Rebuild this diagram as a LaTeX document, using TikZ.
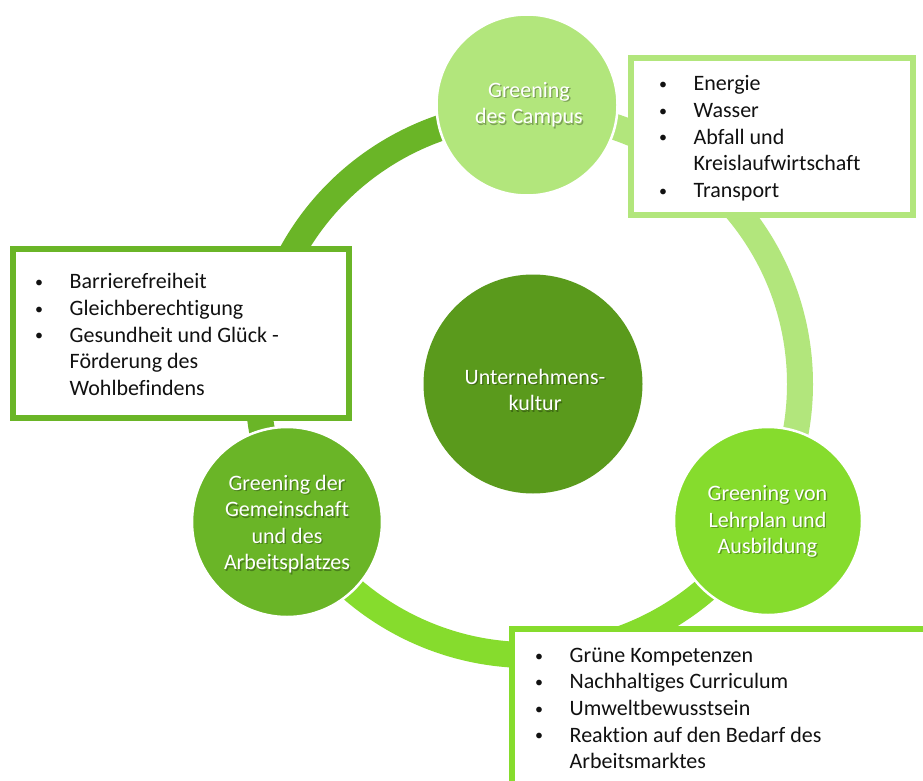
\documentclass[tikz,border=0pt]{standalone}
\usepackage{fontspec}
\setmainfont{Carlito}[RawFeature=-liga]
\usetikzlibrary{calc}
\definecolor{gDark}{HTML}{5A9A1C}
\definecolor{gMed}{HTML}{6AB527}
\definecolor{gBright}{HTML}{86DC2D}
\definecolor{gLight}{HTML}{B2E67C}
\definecolor{inkText}{HTML}{111111}
\newcommand\lst{\rule[-6pt]{0pt}{25pt}}
\newcommand\bulsym{\raisebox{1.2pt}{\fontsize{16}{16}\selectfont •}}
\newcommand\bul[1]{\lst\makebox[35.5pt][l]{\hspace*{1pt}\bulsym}#1}
\newcommand\cont[1]{\lst\hspace*{35.5pt}#1}
\newcommand\ctextpair[3]{%
  \node[cshadow] at ($#2+(1.3,1.3)$) {#3};
  \node[ctext] (#1) at #2 {#3};}
\begin{document}
\begin{tikzpicture}[x=1pt,y=-1pt,
  every node/.style={font=\fontsize{22}{26.6}\selectfont},
  ringarc/.style={line width=26pt},
  bubble/.style={circle, draw=white, line width=2.5pt, inner sep=0pt},
  infobox/.style={rectangle, draw, line width=6pt, fill=white, inner sep=0pt},
  listtext/.style={anchor=west, align=left, inner sep=0pt, text=inkText},
  ctext/.style={align=center, inner sep=0pt, text=white},
  cshadow/.style={align=center, inner sep=0pt, text=black, opacity=0.3},
]
\clip (0,0) rectangle (923,781);
\fill[white] (0,0) rectangle (923,781);

% ring centre
\coordinate (R) at (529,384);

% ring arcs (clockwise in the picture)
\draw[ringarc, gLight]  ($(R)+(-92:271)$) arc[start angle=-92, end angle=32, radius=271];
\draw[ringarc, gBright] ($(R)+(28:271)$)  arc[start angle=28,  end angle=152, radius=271];
\draw[ringarc, gMed]    ($(R)+(148:271)$) arc[start angle=148, end angle=272, radius=271];

% boxes
\node[infobox, draw=gLight,  minimum width=282, minimum height=157] (boxT) at (772,136.5) {};
\node[infobox, draw=gMed,    minimum width=336, minimum height=169] (boxL) at (181,333.5) {};
\node[infobox, draw=gBright, minimum width=425, minimum height=168] (boxB) at (724.5,713) {};

% circles
\node[circle, fill=gDark, inner sep=0pt, minimum size=219] (core) at (533,384) {};
\node[bubble, fill=gLight,  minimum size=181] (campus) at (527,105) {};
\node[bubble, fill=gBright, minimum size=188] (lehr)   at (768,521) {};
\node[bubble, fill=gMed,    minimum size=190] (gemein) at (287,522) {};

% circle texts
\ctextpair{coreT}{(535,391)}{\lst Unternehmens-\\\lst kultur}
\ctextpair{campusT}{(529,104)}{\lst Greening\\\lst des Campus}
\ctextpair{lehrT}{(767.5,520.5)}{\lst Greening von\\\lst Lehrplan und\\\lst Ausbildung}
\ctextpair{gemeinT}{(287,523.5)}{\lst Greening der\\\lst Gemeinschaft\\\lst und des\\\lst Arbeitsplatzes}

% list texts
\node[listtext] (listT) at (658,137.5)
  {\bul{Energie}\\\bul{Wasser}\\\bul{Abfall und}\\\cont{Kreislaufwirtschaft}\\\bul{Transport}};
\node[listtext] (listL) at (34,335.5)
  {\bul{Barrierefreiheit}\\\bul{Gleichberechtigung}\\\bul{Gesundheit und Glück -}\\\cont{Förderung des}\\\cont{Wohlbefindens}};
\node[listtext] (listB) at (534,709)
  {\bul{Grüne Kompetenzen}\\\bul{Nachhaltiges Curriculum}\\\bul{Umweltbewusstsein}\\\bul{Reaktion auf den Bedarf des}\\\cont{Arbeitsmarktes}};
\end{tikzpicture}
\end{document}
